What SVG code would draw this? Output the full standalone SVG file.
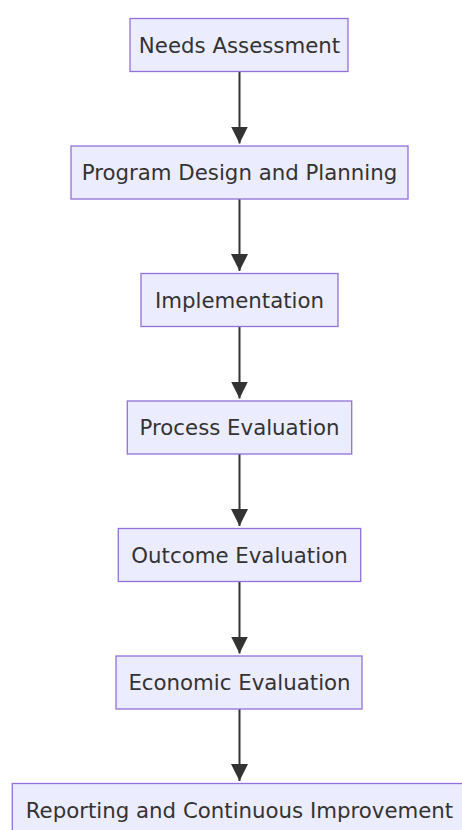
<svg xmlns="http://www.w3.org/2000/svg" width="462" height="830" viewBox="0 0 462 830">
<style>
.node rect{fill:#ECECFF;stroke:#9370DB;stroke-width:1.3px;}
.node text{font-family:"DejaVu Sans",Verdana,sans-serif;font-size:21.3px;fill:#333;text-anchor:middle;}
.edge{stroke:#333;stroke-width:2px;fill:none;}
</style>
<defs>
<marker id="arrow" viewBox="0 0 10 10" refX="10" refY="5" markerUnits="userSpaceOnUse" markerWidth="17" markerHeight="17" orient="auto">
<path d="M0,0 L10,5 L0,10 z" fill="#333"/>
</marker>
</defs>
<g id="connectors">
<path class="edge" d="M239.5,71.5 V143.5" marker-end="url(#arrow)"/>
<path class="edge" d="M239.5,199 V271" marker-end="url(#arrow)"/>
<path class="edge" d="M239.5,326.5 V398.5" marker-end="url(#arrow)"/>
<path class="edge" d="M239.5,454 V526" marker-end="url(#arrow)"/>
<path class="edge" d="M239.5,581.5 V653.5" marker-end="url(#arrow)"/>
<path class="edge" d="M239.5,709 V781" marker-end="url(#arrow)"/>
</g>
<g id="n1" class="node"><rect x="130" y="18.5" width="218" height="53"/><text x="239.5" y="52.5">Needs Assessment</text></g>
<g id="n2" class="node"><rect x="71" y="146" width="337" height="53"/><text x="239.5" y="180">Program Design and Planning</text></g>
<g id="n3" class="node"><rect x="141" y="273.5" width="197" height="53"/><text x="239.5" y="307.5">Implementation</text></g>
<g id="n4" class="node"><rect x="127.3" y="401" width="224.4" height="53"/><text x="239.5" y="435">Process Evaluation</text></g>
<g id="n5" class="node"><rect x="118.3" y="528.5" width="242.4" height="53"/><text x="239.5" y="562.5">Outcome Evaluation</text></g>
<g id="n6" class="node"><rect x="116" y="656" width="246" height="53"/><text x="239.5" y="690">Economic Evaluation</text></g>
<g id="n7" class="node"><rect x="12.3" y="783.5" width="454" height="53"/><text x="239.5" y="817.5">Reporting and Continuous Improvement</text></g>
</svg>
